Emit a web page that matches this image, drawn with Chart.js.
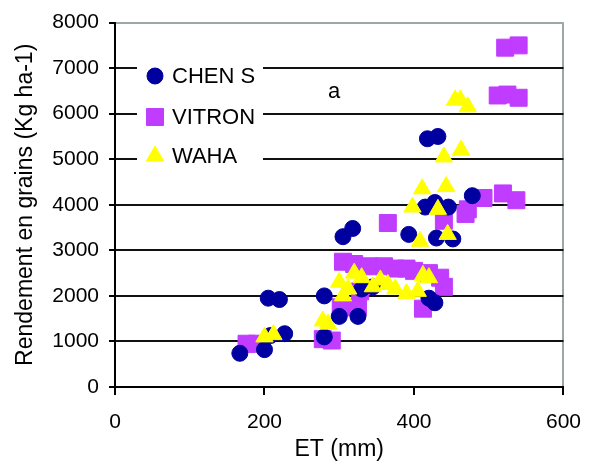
<!DOCTYPE html>
<html>
<head>
<meta charset="utf-8">
<script src="https://cdn.jsdelivr.net/npm/chart.js@4/dist/chart.umd.min.js"></script>
<style>
  body { margin: 0; background: #fff; }
  canvas { display: block; }
</style>
</head>
<body>
<canvas id="yieldChart" width="596" height="464"></canvas>
<script>
// ET (mm) vs grain yield (Kg ha-1), one list per variety
const chensET    = [167, 200, 208, 227, 205, 220, 280, 280, 305, 318, 300, 325, 330, 345, 393, 430, 452, 420, 428, 418, 432, 415, 428, 446, 478];
const chensYield = [740, 820, 1130, 1170, 1950, 1920, 2000, 1100, 3300, 3480, 1550, 1550, 2150, 2200, 3350, 3270, 3250, 1950, 1850, 5450, 5500, 3950, 4050, 3950, 4200];

const vitronET    = [176, 190, 278, 290, 305, 320, 340, 360, 375, 390, 400, 420, 435, 440, 412, 325, 302, 328, 365, 440, 472, 469, 493, 519, 537, 522, 540, 512, 525, 540];
const vitronYield = [950, 950, 1050, 1020, 2750, 2700, 2650, 2650, 2600, 2600, 2550, 2500, 2400, 2200, 1720, 1750, 1750, 2100, 3600, 3650, 3900, 3800, 4150, 4250, 4100, 7450, 7500, 6400, 6420, 6350];

const wahaET    = [200, 212, 278, 285, 300, 305, 312, 320, 330, 345, 355, 365, 375, 390, 405, 412, 420, 408, 445, 398, 432, 411, 443, 440, 463, 455, 462, 472];
const wahaYield = [1100, 1150, 1450, 1380, 2300, 2000, 2150, 2500, 2400, 2200, 2350, 2250, 2150, 2050, 2100, 2450, 2400, 3200, 3350, 3950, 3900, 4350, 4400, 5050, 5200, 6300, 6300, 6150];

const xTicks = [0, 200, 400, 600];
const yTicks = [0, 1000, 2000, 3000, 4000, 5000, 6000, 7000, 8000];
const panelLabel = 'a';

const FONT = '"Liberation Sans", Arial, sans-serif';

function toPoints(xs, ys) {
    return xs.map((x, i) => ({ x: x, y: ys[i] }));
}

const series = [
    { label: 'CHEN S', data: toPoints(chensET, chensYield), color: '#0000a0', style: 'circle', radius: 8, order: 1 },
    { label: 'VITRON', data: toPoints(vitronET, vitronYield), color: '#c03cff', style: 'rect', radius: 12, order: 2 },
    { label: 'WAHA', data: toPoints(wahaET, wahaYield), color: '#ffff00', style: 'triangle', radius: 10, order: 0 }
];

// legend box sits inside the plot, on top of the upper gridlines
const innerLegend = {
    id: 'innerLegend',
    afterDatasetsDraw(chart) {
        const ctx = chart.ctx;
        ctx.save();
        ctx.fillStyle = '#fff';
        ctx.fillRect(137, 52, 126, 125);
        const rows = [76, 117, 156];
        series.forEach((s, i) => {
            ctx.fillStyle = s.color;
            ctx.strokeStyle = s.color;
            Chart.helpers.drawPoint(ctx, { pointStyle: s.style, radius: s.radius, rotation: 0, borderWidth: 1 }, 155, rows[i]);
            ctx.fillStyle = '#000';
            ctx.font = '22px ' + FONT;
            ctx.textAlign = 'left';
            ctx.textBaseline = 'middle';
            ctx.fillText(s.label, 172, rows[i] + 1);
        });
        ctx.font = '22px ' + FONT;
        ctx.textAlign = 'center';
        ctx.fillText(panelLabel, 334, 92);
        ctx.restore();
    }
};

new Chart(document.getElementById('yieldChart'), {
    type: 'scatter',
    data: {
        datasets: series.map(s => ({
            label: s.label,
            data: s.data,
            pointStyle: s.style,
            pointRadius: s.radius,
            pointHoverRadius: s.radius,
            backgroundColor: s.color,
            borderColor: s.color,
            pointBorderWidth: 1,
            order: s.order
        }))
    },
    options: {
        responsive: false,
        animation: false,
        devicePixelRatio: 1,
        layout: { padding: { top: 20, right: 21, left: 0, bottom: 0 } },
        plugins: {
            legend: { display: false },
            tooltip: { enabled: false }
        },
        scales: {
            x: {
                type: 'linear',
                min: 0,
                max: 600,
                afterBuildTicks: axis => { axis.ticks = xTicks.map(v => ({ value: v })); },
                afterFit: axis => { axis.height = 77; },
                border: { color: '#000', width: 2 },
                grid: {
                    color: c => c.tick && c.tick.value === 600 ? '#9aa8a8' : 'rgba(0,0,0,0)',
                    lineWidth: 2,
                    tickColor: '#000',
                    tickLength: 8
                },
                ticks: {
                    color: '#000',
                    font: { family: FONT, size: 21 },
                    padding: 15,
                    maxRotation: 0,
                    callback: v => String(v)
                },
                title: {
                    display: true,
                    text: 'ET (mm)',
                    color: '#000',
                    font: { family: FONT, size: 23 },
                    padding: { top: 0, bottom: 1 }
                }
            },
            y: {
                type: 'linear',
                min: 0,
                max: 8000,
                afterBuildTicks: axis => { axis.ticks = yTicks.map(v => ({ value: v })); },
                afterFit: axis => { axis.width = 115; },
                border: { color: '#000', width: 2 },
                grid: {
                    color: c => c.tick && c.tick.value === 8000 ? '#9aa8a8' : '#111',
                    lineWidth: 2,
                    tickColor: '#000',
                    tickLength: 6
                },
                ticks: {
                    color: '#000',
                    font: { family: FONT, size: 21 },
                    padding: 10,
                    callback: v => String(v)
                },
                title: {
                    display: true,
                    text: 'Rendement en grains (Kg ha-1)',
                    color: '#000',
                    font: { family: FONT, size: 23 },
                    padding: { top: 12, bottom: 0 }
                }
            }
        }
    },
    plugins: [innerLegend]
});
</script>
</body>
</html>
